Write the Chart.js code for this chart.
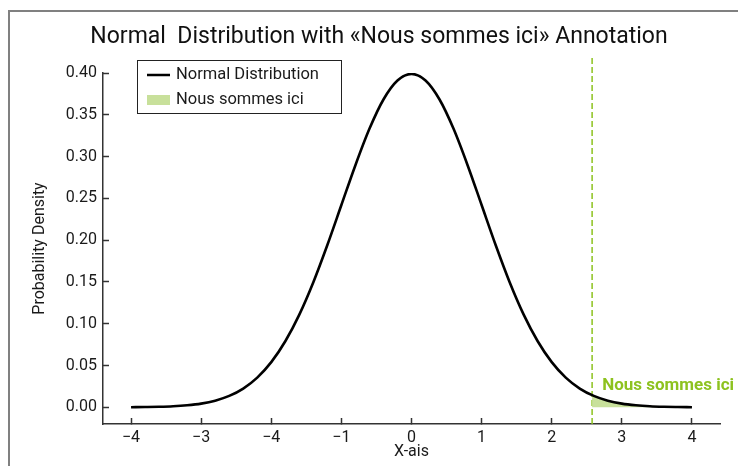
<!DOCTYPE html>
<html>
<head>
<meta charset="utf-8">
<script src="https://cdn.jsdelivr.net/npm/chart.js@4.4.1/dist/chart.umd.min.js"></script>
<style>
  html, body { margin: 0; padding: 0; background: #fff; overflow: hidden; }
  #wrap { position: relative; width: 738px; height: 466px; }
  #wrap canvas { position: absolute; left: 0; top: 0; }
  /* grey frame, only its left and top edges are inside the window */
  #frame { position: absolute; left: 8px; top: 10px; width: 780px; height: 500px;
           border: 2px solid #808080; pointer-events: none; }
</style>
</head>
<body>
<div id="wrap">
  <canvas id="chart" width="738" height="466"></canvas>
  <div id="frame"></div>
</div>
<script>
// normal curve
const xValues = [-4.0, -3.8, -3.6, -3.4, -3.2, -3.0, -2.8, -2.6, -2.4, -2.2, -2.0,
  -1.8, -1.6, -1.4, -1.2, -1.0, -0.8, -0.6, -0.4, -0.2, 0.0, 0.2, 0.4, 0.6, 0.8,
  1.0, 1.2, 1.4, 1.6, 1.8, 2.0, 2.2, 2.4, 2.6, 2.8, 3.0, 3.2, 3.4, 3.6, 3.8, 4.0];
const densityValues = [0.0001, 0.0003, 0.0006, 0.0012, 0.0024, 0.0044, 0.0079, 0.0136,
  0.0224, 0.0355, 0.0540, 0.0790, 0.1109, 0.1497, 0.1942, 0.2420, 0.2897, 0.3332,
  0.3683, 0.3910, 0.3989, 0.3910, 0.3683, 0.3332, 0.2897, 0.2420, 0.1942, 0.1497,
  0.1109, 0.0790, 0.0540, 0.0355, 0.0224, 0.0136, 0.0079, 0.0044, 0.0024, 0.0012,
  0.0006, 0.0003, 0.0001];

// shaded tail right of the marker
const shadeX = [2.576, 2.6, 2.8, 3.0, 3.2, 3.4, 3.6, 3.8, 4.0];
const shadeY = [0.0145, 0.0136, 0.0079, 0.0044, 0.0024, 0.0012, 0.0006, 0.0003, 0.0001];

const markerX = 2.576;
const markerY = [-0.02, 0.419];
const noteX = 2.72;
const noteY = 0.021;
const noteText = "Nous sommes ici";

const xTickValues = [-4, -3, -2, -1, 0, 1, 2, 3, 4];
const xTickLabels = ["\u22124", "\u22123", "\u22124", "\u22121", "0", "1", "2", "3", "4"];
const yTickValues = [0, 0.05, 0.10, 0.15, 0.20, 0.25, 0.30, 0.35, 0.40];

const GREEN = "#8dc21f";
const SHADE = "#c8e09b";
const AXIS = "#333333";
const FONT = "Roboto, 'DejaVu Sans', sans-serif";

Chart.defaults.font.family = FONT;
Chart.defaults.color = "#1a1a1a";

// boxed legend inside the plot, top left
const boxedLegend = {
  id: "boxedLegend",
  afterDraw(chart) {
    const ctx = chart.ctx;
    const curve = chart.data.datasets[0];
    const shade = chart.data.datasets[1];
    ctx.save();
    ctx.fillStyle = "#fff";
    ctx.fillRect(137, 60, 204, 53);
    ctx.strokeStyle = "#222";
    ctx.lineWidth = 1;
    ctx.strokeRect(137.5, 60.5, 204, 53);

    ctx.strokeStyle = curve.borderColor;
    ctx.lineWidth = 2.5;
    ctx.beginPath();
    ctx.moveTo(147, 75);
    ctx.lineTo(170, 75);
    ctx.stroke();

    ctx.fillStyle = shade.backgroundColor;
    ctx.fillRect(147, 95, 23, 10);

    ctx.fillStyle = "#1a1a1a";
    ctx.font = "16.5px " + FONT;
    ctx.textBaseline = "middle";
    ctx.textAlign = "left";
    ctx.fillText(curve.label, 176, 75);
    ctx.fillText(shade.label, 176, 100);
    ctx.restore();
  }
};

// green text next to the marker line
const markerNote = {
  id: "markerNote",
  afterDatasetsDraw(chart) {
    const ctx = chart.ctx;
    const x = chart.scales.x.getPixelForValue(noteX);
    const y = chart.scales.y.getPixelForValue(noteY);
    ctx.save();
    ctx.fillStyle = GREEN;
    ctx.font = "bold 17px " + FONT;
    ctx.textAlign = "left";
    ctx.textBaseline = "alphabetic";
    ctx.fillText(noteText, x, y);
    ctx.restore();
  }
};

// the title is centred on the figure, a bit right of the canvas middle
const shiftTitle = {
  id: "shiftTitle",
  afterLayout(chart) {
    if (chart.titleBlock) {
      chart.titleBlock.left += 19;
      chart.titleBlock.right += 19;
    }
  }
};

new Chart(document.getElementById("chart"), {
  type: "line",
  data: {
    datasets: [
      {
        label: "Normal Distribution",
        data: xValues.map((x, i) => ({ x, y: densityValues[i] })),
        borderColor: "#000",
        borderWidth: 2.6,
        pointRadius: 0,
        cubicInterpolationMode: "monotone",
        fill: false
      },
      {
        label: "Nous sommes ici",
        data: shadeX.map((x, i) => ({ x, y: shadeY[i] })),
        borderWidth: 0,
        borderColor: SHADE,
        backgroundColor: SHADE,
        pointRadius: 0,
        cubicInterpolationMode: "monotone",
        fill: "origin"
      },
      {
        label: "marker",
        data: markerY.map(y => ({ x: markerX, y })),
        borderColor: GREEN,
        borderWidth: 1.5,
        borderDash: [6, 3],
        pointRadius: 0,
        fill: false,
        clip: false
      }
    ]
  },
  options: {
    responsive: false,
    animation: false,
    layout: { padding: { left: 0, right: 18, top: 0, bottom: 0 } },
    plugins: {
      legend: { display: false },
      tooltip: { enabled: false },
      title: {
        display: true,
        text: "Normal  Distribution with \u00abNous sommes ici\u00bb Annotation",
        color: "#111",
        font: { size: 23, weight: "normal" },
        padding: { top: 23, bottom: 22.4 }
      }
    },
    scales: {
      x: {
        type: "linear",
        min: -4.4,
        max: 4.4,
        afterBuildTicks: scale => { scale.ticks = xTickValues.map(v => ({ value: v })); },
        afterFit: scale => { scale.height = 42; },
        ticks: {
          autoSkip: false,
          maxRotation: 0,
          padding: 10,
          font: { size: 16 },
          color: "#1a1a1a",
          callback: (v, i) => xTickLabels[i]
        },
        grid: {
          drawOnChartArea: false,
          drawTicks: true,
          tickLength: -6,
          tickColor: AXIS,
          tickWidth: 1.5
        },
        border: { display: true, color: AXIS, width: 1.5 },
        title: {
          display: true,
          text: "X-ais",
          font: { size: 16 },
          color: "#1a1a1a",
          padding: { top: 0, bottom: 4 }
        }
      },
      y: {
        min: -0.02,
        max: 0.40,
        afterBuildTicks: scale => { scale.ticks = yTickValues.map(v => ({ value: v })); },
        afterFit: scale => { scale.width = 103; },
        ticks: {
          autoSkip: false,
          padding: 12,
          font: { size: 16 },
          color: "#1a1a1a",
          callback: v => v.toFixed(2)
        },
        grid: {
          drawOnChartArea: false,
          drawTicks: true,
          tickLength: -6,
          tickColor: AXIS,
          tickWidth: 1.5
        },
        border: { display: true, color: AXIS, width: 1.5 },
        title: {
          display: true,
          text: "Probability Density",
          font: { size: 16 },
          color: "#1a1a1a",
          padding: { top: 30, bottom: 0 }
        }
      }
    }
  },
  plugins: [boxedLegend, markerNote, shiftTitle]
});
</script>
</body>
</html>
